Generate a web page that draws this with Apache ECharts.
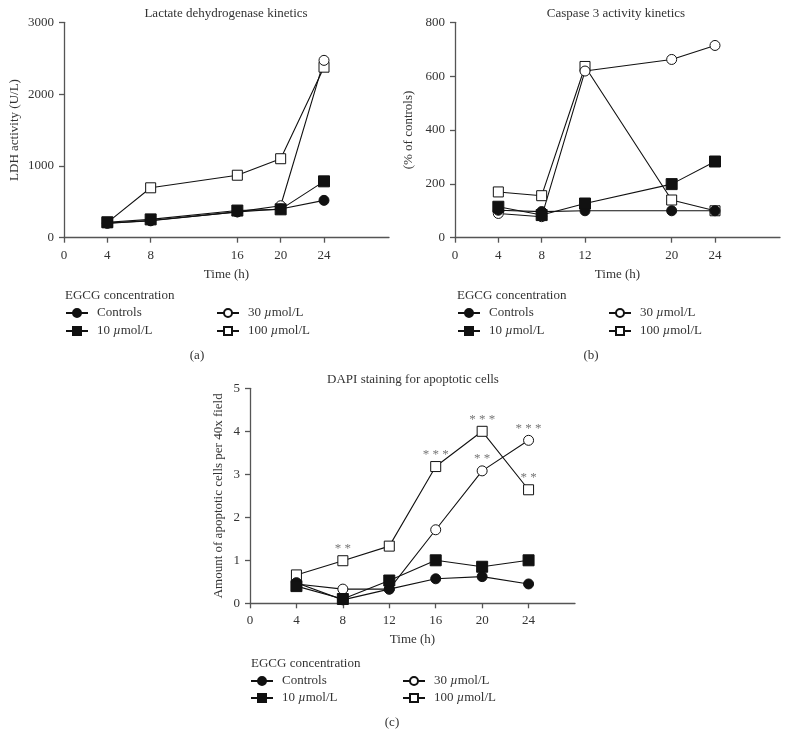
<!DOCTYPE html>
<html>
<head>
<meta charset="utf-8">
<script src="https://cdn.jsdelivr.net/npm/echarts@6/dist/echarts.min.js"></script>
<style>html,body{margin:0;padding:0;background:#fff}#c{width:788px;height:737px}</style>
</head>
<body>
<div id="c"></div>
<script>
// ---- data ----
const seriesNames = ['Controls', '10 µmol/L', '30 µmol/L', '100 µmol/L'];

const timesA = [4, 8, 16, 20, 24];
const ldhControls = [205, 235, 360, 400, 520];
const ldh10 = [215, 255, 378, 395, 785];
const ldh30 = [200, 240, 360, 445, 2470];
const ldh100 = [210, 695, 870, 1100, 2375];
const ticksAx = [0, 4, 8, 16, 20, 24];

const timesB = [4, 8, 12, 20, 24];
const casControls = [102, 97, 100, 100, 100];
const cas10 = [115, 84, 127, 199, 283];
const cas30 = [90, 78, 619, 662, 714];
const cas100 = [170, 156, 636, 140, 100];
const ticksBx = [0, 4, 8, 12, 20, 24];

const timesC = [4, 8, 12, 16, 20, 24];
const dapiControls = [0.48, 0.08, 0.33, 0.57, 0.62, 0.45];
const dapi10 = [0.40, 0.10, 0.53, 1.00, 0.85, 1.00];
const dapi30 = [0.45, 0.33, 0.33, 1.71, 3.08, 3.79];
const dapi100 = [0.66, 0.99, 1.33, 3.18, 4.00, 2.64];
const sig30 = ['', '', '', '', '* *', '* * *'];
const sig100 = ['', '* *', '', '* * *', '* * *', '* *'];
const ticksCx = [0, 4, 8, 12, 16, 20, 24];

// ---- styles ----
const FONT = 'Liberation Serif';
const TXT = '#333';
const AX = '#555';
const INK = '#111';
const styleOf = {
  'Controls':   {symbol: 'circle', fill: INK, size: 10},
  '10 µmol/L':  {symbol: 'rect', fill: INK, size: 11},
  '30 µmol/L':  {symbol: 'circle', fill: '#fff', size: 10},
  '100 µmol/L': {symbol: 'rect', fill: '#fff', size: 10}
};

function mkSeries(name, idx, xs, ys, sig) {
  const st = styleOf[name];
  return {
    type: 'line', name: name, xAxisIndex: idx, yAxisIndex: idx,
    symbol: st.symbol, symbolSize: st.size,
    showAllSymbol: true,
    z: (name === 'Controls' || name === '10 µmol/L') ? 4 : 3,
    lineStyle: {color: INK, width: 1.1},
    itemStyle: {color: st.fill, borderColor: INK, borderWidth: 1, opacity: 1},
    emphasis: {disabled: true},
    animation: false,
    data: xs.map((x, i) => {
      const d = {value: [x, ys[i]]};
      if (sig && sig[i]) {
        d.label = {show: true, formatter: sig[i], position: 'top', distance: 0,
          color: '#777', fontFamily: FONT, fontSize: 13};
      }
      return d;
    })
  };
}

function mkX(idx, max, ticks) {
  return {
    type: 'value', gridIndex: idx, min: 0, max: max,
    name: 'Time (h)', nameLocation: 'middle', nameGap: 30,
    nameTextStyle: {fontFamily: FONT, fontSize: 13, color: TXT},
    axisLine: {show: true, onZero: false, lineStyle: {color: AX, width: 1.3}},
    axisTick: {show: true, length: 5, customValues: ticks, lineStyle: {color: AX, width: 1.3}},
    axisLabel: {customValues: ticks, margin: 11, fontFamily: FONT, fontSize: 13, color: TXT},
    splitLine: {show: false}
  };
}
function mkY(idx, max, interval, name, gap) {
  return {
    type: 'value', gridIndex: idx, min: 0, max: max, interval: interval,
    name: name, nameLocation: 'middle', nameGap: gap,
    nameTextStyle: {fontFamily: FONT, fontSize: 13, color: TXT},
    axisLine: {show: true, lineStyle: {color: AX, width: 1.3}},
    axisTick: {show: true, length: 5, lineStyle: {color: AX, width: 1.3}},
    axisLabel: {margin: 10, fontFamily: FONT, fontSize: 13, color: TXT,
      formatter: v => String(v)},
    splitLine: {show: false}
  };
}

function mkLegend(names, left, top, gap) {
  return {
    data: names, orient: 'vertical', left: left, top: top, padding: 0,
    itemWidth: 22, itemHeight: 10, itemGap: gap, selectedMode: false,
    textStyle: {fontFamily: FONT, fontSize: 13, color: TXT, lineHeight: 14,
      padding: [0, 0, 0, 4],
      rich: {i: {fontFamily: FONT, fontSize: 13, fontStyle: 'italic', color: TXT}}},
    formatter: n => n.replace('µ', '{i|µ}')
  };
}

function txt(x, y, s, align) {
  return {type: 'text', x: x, y: y, silent: true,
    style: {text: s, font: '13px "' + FONT + '"', fill: TXT,
      textAlign: align || 'center', textVerticalAlign: 'middle'}};
}

const option = {
  animation: false,
  grid: [
    {left: 64, top: 22.3, width: 325, height: 215.4},
    {left: 455, top: 22.3, width: 325, height: 215.4},
    {left: 250, top: 388.3, width: 325, height: 215}
  ],
  xAxis: [mkX(0, 30, ticksAx), mkX(1, 30, ticksBx), mkX(2, 28, ticksCx)],
  yAxis: [mkY(0, 3000, 1000, 'LDH activity (U/L)', 43),
          mkY(1, 800, 200, '(% of controls)', 40),
          mkY(2, 5, 1, 'Amount of apoptotic cells per 40x field', 25)],
  legend: [
    mkLegend(['Controls', '10 µmol/L'], 65, 306, 4),
    mkLegend(['30 µmol/L', '100 µmol/L'], 216, 306, 4),
    mkLegend(['Controls', '10 µmol/L'], 457, 306, 4),
    mkLegend(['30 µmol/L', '100 µmol/L'], 608, 306, 4),
    mkLegend(['Controls', '10 µmol/L'], 250, 674, 3),
    mkLegend(['30 µmol/L', '100 µmol/L'], 402, 674, 3)
  ],
  graphic: [
    txt(226, 14, 'Lactate dehydrogenase kinetics'),
    txt(616, 14, 'Caspase 3 activity kinetics'),
    txt(413, 380, 'DAPI staining for apoptotic cells'),
    txt(65, 296, 'EGCG concentration', 'left'),
    txt(457, 296, 'EGCG concentration', 'left'),
    txt(251, 664, 'EGCG concentration', 'left'),
    txt(197, 356, '(a)'),
    txt(591, 356, '(b)'),
    txt(392, 723, '(c)')
  ],
  series: [
    mkSeries('100 µmol/L', 0, timesA, ldh100),
    mkSeries('30 µmol/L', 0, timesA, ldh30),
    mkSeries('Controls', 0, timesA, ldhControls),
    mkSeries('10 µmol/L', 0, timesA, ldh10),
    mkSeries('100 µmol/L', 1, timesB, cas100),
    mkSeries('30 µmol/L', 1, timesB, cas30),
    mkSeries('Controls', 1, timesB, casControls),
    mkSeries('10 µmol/L', 1, timesB, cas10),
    mkSeries('100 µmol/L', 2, timesC, dapi100, sig100),
    mkSeries('30 µmol/L', 2, timesC, dapi30, sig30),
    mkSeries('Controls', 2, timesC, dapiControls),
    mkSeries('10 µmol/L', 2, timesC, dapi10)
  ]
};
const chart = echarts.init(document.getElementById('c'), null, {renderer: 'canvas'});
chart.setOption(option);
</script>
</body>
</html>
